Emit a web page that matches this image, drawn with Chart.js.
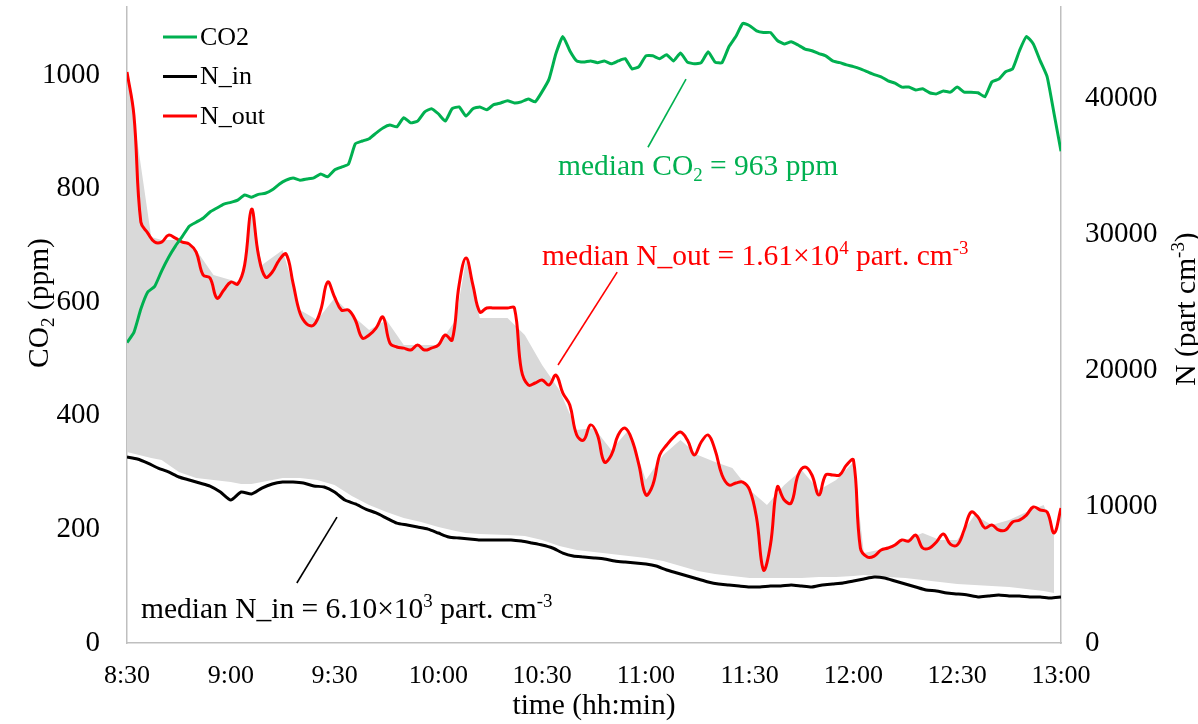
<!DOCTYPE html>
<html>
<head>
<meta charset="utf-8">
<script src="https://cdn.jsdelivr.net/npm/chart.js@4.4.1/dist/chart.umd.min.js"></script>
<style>
  html, body { margin: 0; padding: 0; background: #ffffff; }
  canvas { display: block; }
</style>
</head>
<body>
<canvas id="chart" width="1198" height="724"></canvas>
<script>
// ---- measurement series (minutes after 8:30) ----
const CO2_STEP = 2;   // CO2 logged every 2 min
const co2Ppm = [
  529, 547, 588, 618, 628, 655, 679, 699, 716, 734,
  741, 748, 759, 766, 773, 776, 780, 789, 785, 790,
  792, 798, 808, 815, 819, 815, 817, 819, 826, 821,
  833, 838, 843, 879, 884, 888, 898, 907, 912, 909,
  925, 916, 919, 935, 941, 932, 919, 941, 944, 928,
  941, 944, 939, 948, 951, 955, 951, 953, 958, 953,
  971, 993, 1038, 1068, 1043, 1025, 1023, 1025, 1022, 1025,
  1020, 1025, 1029, 1011, 1015, 1034, 1034, 1029, 1036, 1025,
  1039, 1023, 1020, 1022, 1041, 1023, 1022, 1050, 1068, 1091,
  1087, 1078, 1075, 1075, 1061, 1055, 1059, 1053, 1046, 1043,
  1038, 1034, 1025, 1022, 1018, 1015, 1011, 1006, 1001, 997,
  990, 986, 979, 979, 974, 976, 969, 967, 972, 970,
  979, 970, 970, 969, 962, 988, 993, 1006, 1011, 1043,
  1068, 1055, 1025, 997, 932, 866
];

const NIN_STEP = 3;   // indoor particle counter, every 3 min
const nIn = [
  13650, 13500, 13200, 12840, 12550, 12180, 11960, 11740, 11520, 11080,
  10490, 11080, 10930, 11370, 11670, 11810, 11810, 11740, 11520, 11450,
  11080, 10490, 10200, 9830, 9540, 9170, 8800, 8660, 8510, 8360,
  8070, 7780, 7700, 7630, 7560, 7560, 7560, 7560, 7480, 7340,
  7190, 6970, 6600, 6380, 6310, 6240, 6160, 6020, 5940, 5870,
  5800, 5650, 5360, 5140, 4920, 4700, 4480, 4330, 4260, 4180,
  4110, 4110, 4180, 4180, 4260, 4180, 4110, 4260, 4330, 4400,
  4550, 4700, 4840, 4770, 4550, 4330, 4110, 3890, 3820, 3670,
  3600, 3520, 3380, 3450, 3520, 3450, 3450, 3380, 3380, 3300,
  3380
];

const NOUT_STEP = 2;  // outdoor particle counter, every 2 min
const nOut = [
  41900, 38740, 30890, 30080, 29420, 29420, 29930, 29710, 29420, 29270,
  28690, 27000, 26780, 25310, 25900, 26490, 26340, 27730, 31840, 28470,
  26850, 27220, 28100, 28540, 26410, 24210, 23400, 23330, 24430, 26490,
  25390, 24430, 24430, 23700, 22380, 22600, 23110, 23920, 22010, 21720,
  21640, 21500, 21860, 21500, 21640, 21860, 22600, 22230, 26270, 28250,
  26270, 24290, 24580, 24580, 24580, 24580, 24580, 20030, 18930, 19080,
  19300, 18930, 19660, 18340, 17460, 15260, 14890, 16000, 15260, 13280,
  13790, 15260, 15770, 14890, 13060, 10860, 11590, 13790, 14530, 15110,
  15480, 14890, 13790, 14750, 15260, 14160, 12330, 11590, 11740, 11810,
  11230, 9170, 5360, 7190, 11450, 10490, 10270, 12330, 12910, 12330,
  10860, 12330, 12330, 12330, 13060, 13430, 6970, 6310, 6380, 6820,
  6970, 7190, 7560, 7480, 7920, 6970, 6970, 7410, 8000, 7260,
  7190, 8290, 9610, 9240, 8440, 8660, 8290, 8290, 8880, 9020,
  9390, 9980, 9760, 9610, 8070, 9900
];

// coarse indoor/outdoor envelope (shaded band)
const bandMinutes = [
  0, 7, 10, 15, 20, 25, 30, 33, 36, 39,
  45, 50, 55, 60, 65, 70, 75, 80, 85, 90,
  95, 98, 102, 110, 115, 120, 125, 130, 135, 140,
  145, 150, 155, 160, 165, 170, 175, 180, 185, 190,
  195, 200, 205, 210, 213, 220, 225, 230, 235, 240,
  245, 250, 255, 260, 265, 268
];
const bandUpper = [
  42040, 29790, 29570, 29570, 28830, 27000, 26630, 26410, 31620, 27730,
  28830, 24430, 23700, 25310, 24070, 22960, 23700, 21860, 21860, 21860,
  23700, 28100, 23850, 23850, 22600, 20400, 18560, 15630, 15770, 14160,
  15630, 11960, 13790, 14890, 13790, 13280, 12840, 11230, 10120, 11590,
  12690, 11230, 11960, 13280, 6600, 6970, 7560, 8070, 7560, 7560,
  9390, 8660, 9020, 9610, 10120, 8070
];
const bandLower = [
  14010, 13570, 13430, 12550, 12110, 11960, 11810, 11670, 11670, 11810,
  12110, 12110, 11960, 11590, 10790, 10120, 9610, 9170, 8880, 8510,
  8220, 8070, 8000, 7920, 7850, 7560, 7120, 6820, 6680, 6530,
  6380, 6240, 6020, 5650, 5280, 5060, 4920, 4770, 4770, 4770,
  4770, 4840, 4840, 4920, 4990, 4840, 4770, 4620, 4480, 4330,
  4260, 4180, 4110, 3960, 3820, 3670
];

// axis ranges and tick values
const START_HOUR = 8, START_MIN = 30, SPAN_MIN = 270, TICK_MIN = 30;
const CO2_MAX = 1120;
const co2Ticks = [0, 200, 400, 600, 800, 1000];
const N_MAX = 46670;
const nTicks = [0, 10000, 20000, 30000, 40000];

const SERIF = "'Liberation Serif', 'Times New Roman', 'DejaVu Serif', serif";
const GREEN = '#00b050', RED = '#ff0000', BLACK = '#000000', SHADE = '#d9d9d9', AXIS = '#bfbfbf';

function stepped(values, step) { return values.map((v, i) => ({ x: i * step, y: v })); }
function paired(xs, ys) { return xs.map((x, i) => ({ x: x, y: ys[i] })); }
function clock(m) {
  const tot = START_HOUR * 60 + START_MIN + m;
  const h = Math.floor(tot / 60), mm = tot % 60;
  return h + ':' + (mm < 10 ? '0' : '') + mm;
}

// text with sub/superscripts
function richWidth(ctx, parts, size) {
  let w = 0;
  for (const p of parts) {
    const s = (p.sub || p.sup) ? size * 0.64 : size;
    ctx.font = s + 'px ' + SERIF;
    w += ctx.measureText(p.t).width;
  }
  return w;
}
function drawRich(ctx, parts, x, y, size, color, align) {
  ctx.save();
  ctx.fillStyle = color;
  ctx.textBaseline = 'alphabetic';
  ctx.textAlign = 'left';
  let cx = align === 'center' ? x - richWidth(ctx, parts, size) / 2 : x;
  for (const p of parts) {
    const s = (p.sub || p.sup) ? size * 0.64 : size;
    ctx.font = s + 'px ' + SERIF;
    const dy = p.sub ? size * 0.2 : (p.sup ? -size * 0.36 : 0);
    ctx.fillText(p.t, cx, y + dy);
    cx += ctx.measureText(p.t).width;
  }
  ctx.restore();
}

// callouts, anchored in data units
const callouts = [
  { axis: 'yC', color: GREEN, text: [{ t: 'median CO' }, { t: '2', sub: true }, { t: ' = 963 ppm' }],
    at: [124.6, 824], line: [[161.6, 993], [150.6, 873]] },
  { axis: 'yN', color: RED, text: [{ t: 'median N_out = 1.61×10' }, { t: '4', sup: true }, { t: ' part. cm' }, { t: '-3', sup: true }],
    at: [120, 27730], line: [[141.7, 27220], [124.6, 20400]] },
  { axis: 'yN', color: BLACK, text: [{ t: 'median N_in = 6.10×10' }, { t: '3', sup: true }, { t: ' part. cm' }, { t: '-3', sup: true }],
    at: [4.05, 1834], line: [[60.7, 9240], [49.1, 4400]] }
];

const decor = {
  id: 'decor',
  afterDatasetsDraw(chart) {
    const ctx = chart.ctx, xs = chart.scales.x;
    for (const c of callouts) {
      const ys = chart.scales[c.axis];
      ctx.save();
      ctx.strokeStyle = c.color;
      ctx.lineWidth = 1.6;
      ctx.beginPath();
      ctx.moveTo(xs.getPixelForValue(c.line[0][0]), ys.getPixelForValue(c.line[0][1]));
      ctx.lineTo(xs.getPixelForValue(c.line[1][0]), ys.getPixelForValue(c.line[1][1]));
      ctx.stroke();
      ctx.restore();
      drawRich(ctx, c.text, xs.getPixelForValue(c.at[0]), ys.getPixelForValue(c.at[1]), 29.5, c.color, 'left');
    }
    // legend
    const area = chart.chartArea;
    const items = chart.data.datasets.filter(d => d.inLegend).sort((a, b) => a.legendRank - b.legendRank);
    items.forEach((d, i) => {
      const y = area.top + 30 + i * 39.5;
      ctx.save();
      ctx.strokeStyle = d.borderColor;
      ctx.lineWidth = 3;
      ctx.beginPath();
      ctx.moveTo(area.left + 36, y);
      ctx.lineTo(area.left + 70, y);
      ctx.stroke();
      ctx.fillStyle = '#000';
      ctx.font = '26px ' + SERIF;
      ctx.textBaseline = 'middle';
      ctx.fillText(d.label, area.left + 73, y + 1);
      ctx.restore();
    });
  },
  afterDraw(chart) {
    const ctx = chart.ctx, area = chart.chartArea;
    const mid = (area.top + area.bottom) / 2;
    ctx.save();
    ctx.translate(48, mid - 22);
    ctx.rotate(-Math.PI / 2);
    drawRich(ctx, [{ t: 'CO' }, { t: '2', sub: true }, { t: ' (ppm)' }], 0, 0, 29.5, '#000', 'center');
    ctx.restore();
    ctx.save();
    ctx.translate(1195, mid - 16);
    ctx.rotate(-Math.PI / 2);
    drawRich(ctx, [{ t: 'N (part cm' }, { t: '-3', sup: true }, { t: ')' }], 0, 0, 29.5, '#000', 'center');
    ctx.restore();
  }
};

const tickFont = { family: SERIF, size: 29 };
const fixedTicks = list => (s => { s.ticks = list.map(v => ({ value: v })); });

new Chart(document.getElementById('chart'), {
  type: 'line',
  data: {
    datasets: [
      { label: 'band-low', data: paired(bandMinutes, bandLower), yAxisID: 'yN',
        borderWidth: 0, pointRadius: 0, fill: false, tension: 0, order: 10 },
      { label: 'band-high', data: paired(bandMinutes, bandUpper), yAxisID: 'yN',
        borderWidth: 0, pointRadius: 0, fill: '-1', backgroundColor: SHADE, tension: 0, order: 9 },
      { label: 'N_in', data: stepped(nIn, NIN_STEP), yAxisID: 'yN', borderColor: BLACK,
        borderWidth: 3, pointRadius: 0, tension: 0.2, order: 3, inLegend: true, legendRank: 2 },
      { label: 'N_out', data: stepped(nOut, NOUT_STEP), yAxisID: 'yN', borderColor: RED,
        borderWidth: 3, pointRadius: 0, tension: 0.4, order: 2, inLegend: true, legendRank: 3 },
      { label: 'CO2', data: stepped(co2Ppm, CO2_STEP), yAxisID: 'yC', borderColor: GREEN,
        borderWidth: 3, pointRadius: 0, tension: 0.15, order: 1, inLegend: true, legendRank: 1 }
    ]
  },
  options: {
    responsive: false,
    animation: false,
    devicePixelRatio: 1,
    layout: { padding: { top: 7, left: 0, right: 0, bottom: 0 } },
    plugins: { legend: { display: false }, tooltip: { enabled: false } },
    scales: {
      x: {
        type: 'linear', min: 0, max: SPAN_MIN,
        ticks: { stepSize: TICK_MIN, callback: v => clock(v), font: { family: SERIF, size: 26 },
                 color: '#000', padding: 18, maxRotation: 0, autoSkip: false },
        grid: { display: false, drawTicks: false },
        border: { color: AXIS, width: 1.5 },
        title: { display: true, text: 'time (hh:min)', color: '#000',
                 font: { family: SERIF, size: 29.5 }, padding: { top: 0, bottom: 0 } },
        afterFit(s) { s.height = 81; s.paddingLeft = 0; s.paddingRight = 0; }
      },
      yC: {
        position: 'left', min: 0, max: CO2_MAX,
        afterBuildTicks: fixedTicks(co2Ticks),
        ticks: { callback: v => String(v), font: tickFont, color: '#000', padding: 27 },
        grid: { display: false, drawTicks: false },
        border: { color: AXIS, width: 1.5 },
        afterFit(s) { s.width = 127; s.paddingTop = 0; s.paddingBottom = 0; }
      },
      yN: {
        position: 'right', min: 0, max: N_MAX,
        afterBuildTicks: fixedTicks(nTicks),
        ticks: { callback: v => String(v), font: tickFont, color: '#000', padding: 24 },
        grid: { display: false, drawTicks: false },
        border: { color: AXIS, width: 1.5 },
        afterFit(s) { s.width = 137; s.paddingTop = 0; s.paddingBottom = 0; }
      }
    }
  },
  plugins: [decor]
});
</script>
</body>
</html>
